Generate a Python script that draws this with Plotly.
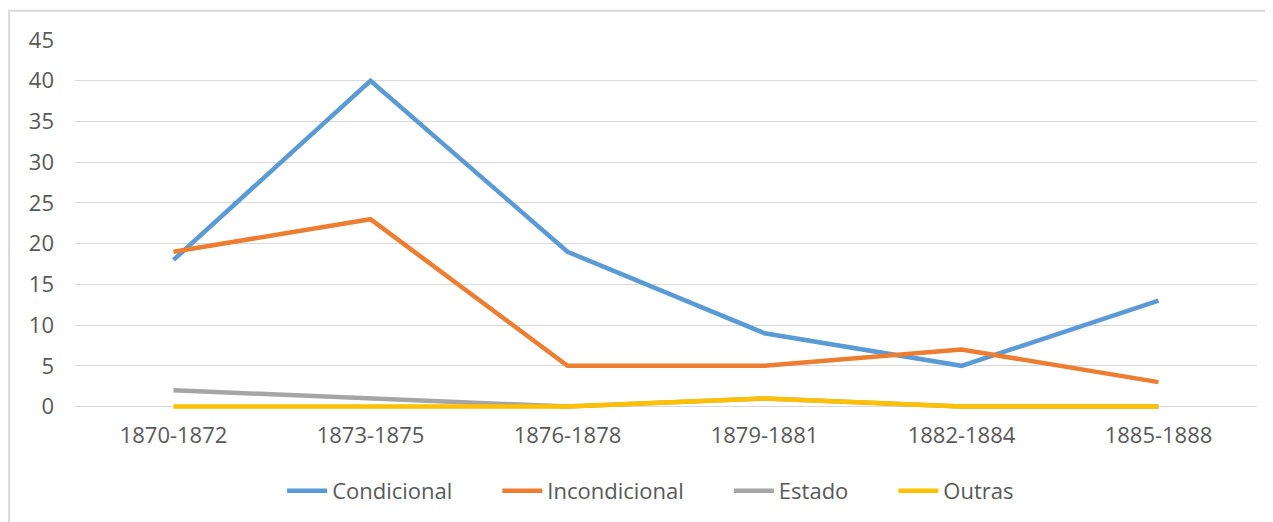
import plotly.graph_objects as go

periods = ["1870-1872", "1873-1875", "1876-1878", "1879-1881", "1882-1884", "1885-1888"]
condicional = [18, 40, 19, 9, 5, 13]
incondicional = [19, 23, 5, 5, 7, 3]
estado = [2, 1, 0, 1, 0, 0]
outras = [0, 0, 0, 1, 0, 0]

series = [
    ("Condicional", condicional, "#5B9BD5"),
    ("Incondicional", incondicional, "#ED7D31"),
    ("Estado", estado, "#A5A5A5"),
    ("Outras", outras, "#FFC000"),
]

PAD = "\u00a0" * 7  # widen gaps between legend entries

fig = go.Figure()
for i, (name, vals, color) in enumerate(series):
    fig.add_trace(
        go.Scatter(
            x=periods,
            y=vals,
            name=name + (PAD if i < len(series) - 1 else ""),
            mode="lines",
            line=dict(color=color, width=4.5),
        )
    )

# chart border like the spreadsheet frame
fig.add_shape(
    type="rect", xref="paper", yref="paper",
    x0=-0.0558, x1=1.05, y0=-0.5, y1=1.079,
    line=dict(color="#D9D9D9", width=2), fillcolor="rgba(0,0,0,0)", layer="below",
)

fig.update_layout(
    width=1273,
    height=522,
    margin=dict(l=67, r=24, t=32, b=121),
    plot_bgcolor="white",
    paper_bgcolor="white",
    font=dict(family="Open Sans", size=22, color="#595959"),
    showlegend=True,
    legend=dict(
        orientation="h", x=0.487, xanchor="center", y=-0.222, yanchor="middle",
        font=dict(size=22, color="#595959"), itemwidth=40,
    ),
    xaxis=dict(
        type="category", range=[-0.5, 5.5], showgrid=False, zeroline=False,
        showline=False, ticks="", ticklabelstandoff=11,
    ),
    yaxis=dict(
        range=[-0.3, 45], tickvals=list(range(0, 50, 5)), showgrid=True,
        gridcolor="#D9D9D9", gridwidth=1,
        zeroline=False, showline=False, ticks="", ticklabelstandoff=20,
    ),
)

fig.write_html("out.html")
